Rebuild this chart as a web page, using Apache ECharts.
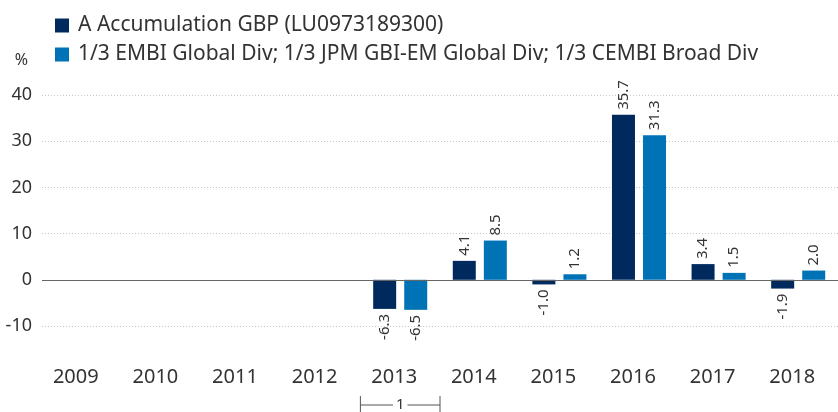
<!DOCTYPE html>
<html>
<head>
<meta charset="utf-8">
<script src="https://cdn.jsdelivr.net/npm/echarts@6/dist/echarts.min.js"></script>
<style>
  html, body { margin: 0; padding: 0; background: #fff; }
  #chart { width: 838px; height: 412px; }
</style>
</head>
<body>
<div id="chart"></div>
<script>
// calendar years shown on the x axis
const years = ["2009", "2010", "2011", "2012", "2013", "2014", "2015", "2016", "2017", "2018"];
// annual performance, %
const fundValues = [null, null, null, null, -6.3, 4.1, -1.0, 35.7, 3.4, -1.9];
const indexValues = [null, null, null, null, -6.5, 8.5, 1.2, 31.3, 1.5, 2.0];
const yTicks = [-10, 0, 10, 20, 30, 40];

const seriesNames = [
  "A Accumulation GBP (LU0973189300)",
  "1/3 EMBI Global Div; 1/3 JPM GBI-EM Global Div; 1/3 CEMBI Broad Div"
];
const colors = ["#002a5e", "#0073b7"];
const font = "Noto Sans";

// negative bars carry their label underneath
function toItems(values) {
  return values.map(function (v) {
    if (v == null) return null;
    return {
      value: v,
      label: {
        position: v < 0 ? "bottom" : "top",
        align: v < 0 ? "right" : "left"
      }
    };
  });
}

function makeSeries(i, values) {
  return {
    name: seriesNames[i],
    type: "bar",
    data: toItems(values),
    barWidth: 23,
    barGap: "35%",
    itemStyle: { color: colors[i] },
    label: {
      show: true,
      rotate: 90,
      distance: 5,
      verticalAlign: "middle",
      color: "#333",
      fontFamily: font,
      fontSize: 15,
      formatter: function (p) {
        return p.value.toFixed(1);
      }
    },
    markLine: i == 0 ? {
      silent: true,
      symbol: "none",
      label: { show: false },
      lineStyle: { color: "#666", type: "solid", width: 1 },
      data: [{ yAxis: 0 }]
    } : undefined
  };
}

const chart = echarts.init(document.getElementById("chart"));

chart.setOption({
  animation: false,
  textStyle: { fontFamily: font },
  legend: {
    orient: "vertical",
    left: 50,
    top: 10,
    itemWidth: 14,
    itemHeight: 14,
    itemGap: 8,
    icon: "rect",
    textStyle: { fontSize: 21, color: "#333", fontFamily: font, padding: [0, 0, 0, 4] },
    data: seriesNames
  },
  grid: { left: 42, right: -6, top: 95, bottom: 86 },
  xAxis: {
    type: "category",
    data: years,
    axisLine: { show: false, onZero: false },
    axisTick: { show: false },
    axisLabel: { color: "#333", fontSize: 20, fontFamily: font, margin: 41, padding: [0, 12, 0, 0] }
  },
  yAxis: {
    type: "value",
    min: yTicks[0],
    max: yTicks[yTicks.length - 1],
    interval: 10,
    name: "%",
    nameLocation: "end",
    nameGap: 27,
    nameTextStyle: { color: "#333", fontSize: 16, fontFamily: font, align: "right", padding: [0, 14, 0, 0] },
    axisLine: { show: false },
    axisTick: { show: false },
    axisLabel: { color: "#333", fontSize: 18, fontFamily: font, margin: 10 },
    splitLine: { lineStyle: { color: "#c8c8c8", type: [1, 2], width: 1 } }
  },
  series: [makeSeries(0, fundValues), makeSeries(1, indexValues)]
});

// footnote bracket under the first year of the record (2013)
const firstIdx = fundValues.findIndex(function (v) { return v != null; });
const cx = chart.convertToPixel({ xAxisIndex: 0 }, firstIdx);
const half = chart.getModel().getComponent("xAxis", 0).axis.getBandWidth() / 2;
const x0 = cx - half, x1 = cx + half, by = 405;
chart.setOption({
  graphic: [
    { type: "line", shape: { x1: x0, y1: by, x2: x1, y2: by }, style: { stroke: "#555", lineWidth: 1 } },
    { type: "line", shape: { x1: x0, y1: by - 9, x2: x0, y2: by + 9 }, style: { stroke: "#555", lineWidth: 1 } },
    { type: "line", shape: { x1: x1, y1: by - 9, x2: x1, y2: by + 9 }, style: { stroke: "#555", lineWidth: 1 } },
    {
      type: "text", x: cx, y: by, z: 10,
      style: {
        text: "1", fill: "#333", font: "15px Noto Sans",
        align: "center", verticalAlign: "middle",
        backgroundColor: "#fff", padding: [0, 3]
      }
    }
  ]
});
</script>
</body>
</html>
